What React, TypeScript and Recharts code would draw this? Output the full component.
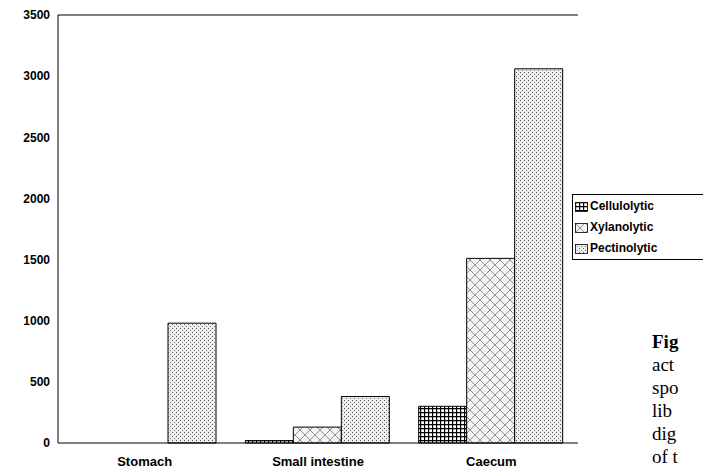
import React from 'react';
import { BarChart, Bar, XAxis, YAxis, ReferenceLine } from 'recharts';

const categories = ['Stomach', 'Small intestine', 'Caecum'];
const cellulolytic = [0, 20, 300];
const xylanolytic = [0, 130, 1510];
const pectinolytic = [980, 380, 3060];
const yTicks = [0, 500, 1000, 1500, 2000, 2500, 3000, 3500];

const data = categories.map((c, i) => ({ name: c, cel: cellulolytic[i], xyl: xylanolytic[i], pec: pectinolytic[i] }));
const font = 'Arial, "Liberation Sans", sans-serif';

const Swatch = ({ id }: { id: string }) => (
  <svg width={13} height={10} style={{ marginRight: 2 }}>
    <rect x={0.5} y={0.5} width={12} height={9} fill={`url(#${id})`} stroke="#000" strokeWidth={0.8} />
  </svg>
);

export default function App() {
  return (
    <div style={{ position: 'fixed', left: 0, top: 0, width: 703, height: 471, background: '#fff', overflow: 'hidden' }}>
      <BarChart width={703} height={471} data={data} margin={{ top: 15, right: 125, bottom: 0, left: 0 }} barCategoryGap={14} barGap={0}>
        <defs>
          <pattern id="pCel" width="4" height="4" patternUnits="userSpaceOnUse">
            <rect width="4" height="4" fill="#fff" />
            <path d="M0 0.5H4M0.5 0V4" stroke="#000" strokeWidth="1.4" />
          </pattern>
          <pattern id="pXyl" width="10" height="10" patternUnits="userSpaceOnUse">
            <rect width="10" height="10" fill="#f4f4f4" />
            <path d="M0 0L10 10M10 0L0 10" stroke="#777" strokeWidth="0.8" />
          </pattern>
          <pattern id="pPec" width="4" height="4" patternUnits="userSpaceOnUse">
            <rect width="4" height="4" fill="#eee" />
            <rect x="0" y="0" width="1" height="1" fill="#555" />
            <rect x="2" y="2" width="1" height="1" fill="#777" />
          </pattern>
        </defs>
        <XAxis dataKey="name" height={28} tickLine={false} axisLine={{ stroke: '#000' }} tick={{ fontFamily: font, fontSize: 13, fontWeight: 'bold', fill: '#000', dy: 6 }} />
        <YAxis width={58} domain={[0, 3500]} ticks={yTicks} tickLine={false} axisLine={{ stroke: '#000' }} tick={{ fontFamily: font, fontSize: 12, fontWeight: 'bold', fill: '#000' }} />
        <YAxis yAxisId="r" orientation="right" width={0} tick={false} tickLine={false} axisLine={{ stroke: '#888' }} />
        <ReferenceLine y={3500} stroke="#000" />
        <Bar dataKey="cel" fill="url(#pCel)" stroke="#000" strokeWidth={1} isAnimationActive={false} />
        <Bar dataKey="xyl" fill="url(#pXyl)" stroke="#000" strokeWidth={1} isAnimationActive={false} />
        <Bar dataKey="pec" fill="url(#pPec)" stroke="#000" strokeWidth={1} isAnimationActive={false} />
      </BarChart>
      <div style={{ position: 'absolute', left: 572, top: 194, width: 140, height: 66, border: '1px solid #000', fontFamily: font, fontSize: 12, fontWeight: 'bold', lineHeight: '21px', paddingLeft: 2, paddingTop: 1, boxSizing: 'border-box' }}>
        <div style={{ display: 'flex', alignItems: 'center' }}><Swatch id="pCel" />Cellulolytic</div>
        <div style={{ display: 'flex', alignItems: 'center' }}><Swatch id="pXyl" />Xylanolytic</div>
        <div style={{ display: 'flex', alignItems: 'center' }}><Swatch id="pPec" />Pectinolytic</div>
      </div>
      <div style={{ position: 'absolute', left: 652, top: 330, fontFamily: '"Liberation Serif", serif', fontSize: 19, lineHeight: '23px', whiteSpace: 'nowrap' }}>
        <div style={{ fontWeight: 'bold' }}>Fig</div>
        <div>act</div>
        <div>spo</div>
        <div>lib</div>
        <div>dig</div>
        <div>of t</div>
      </div>
    </div>
  );
}
